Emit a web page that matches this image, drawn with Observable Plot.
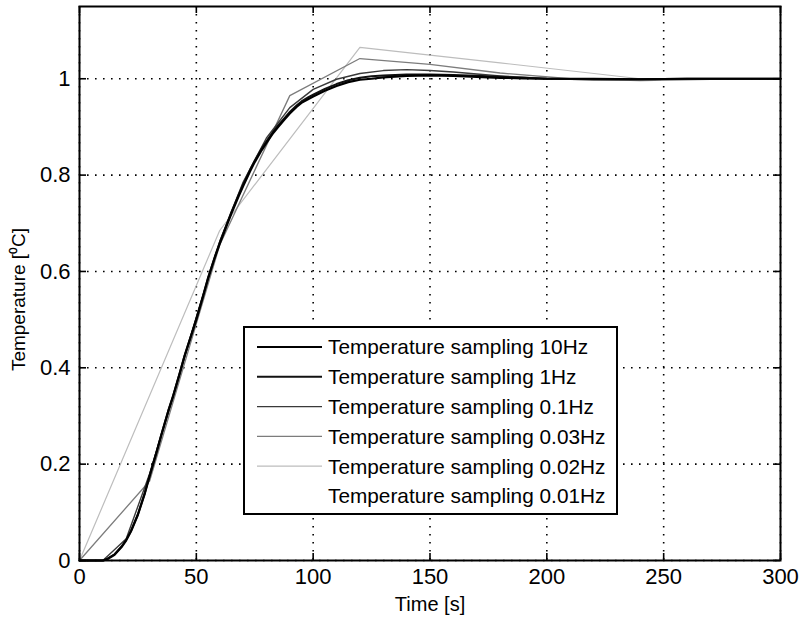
<!DOCTYPE html>
<html><head><meta charset="utf-8">
<script src="https://cdn.jsdelivr.net/npm/d3@7"></script>
<script src="https://cdn.jsdelivr.net/npm/@observablehq/plot@0.6"></script>
<style>
body{margin:0;background:#fff;}
#wrap{position:relative;width:801px;height:620px;font-family:"Liberation Sans",Arial,sans-serif;}
#legend{position:absolute;left:243px;top:326px;width:371px;height:185px;border:2px solid #000;background:#fff;}
</style></head>
<body><div id="wrap"><div id="chart"></div><div id="legend"></div></div>
<script>
// ---- data ----
const seriesNames = ["Temperature sampling 10Hz","Temperature sampling 1Hz","Temperature sampling 0.1Hz","Temperature sampling 0.03Hz","Temperature sampling 0.02Hz","Temperature sampling 0.01Hz"];
const xTicks = [0,50,100,150,200,250,300];
const yTicks = [0,0.2,0.4,0.6,0.8,1];
const yTickLabels = ["0","0.2","0.4","0.6","0.8","1"];
const xLabel = "Time [s]";
const yLabel = "Temperature [\u2070C]";

const t10Hz = [0,5,10,12,15,18,20,22,25,28,30,33,35,38,40,43,45,48,50,53,55,58,60,63,65,68,70,73,75,78,80,83,85,88,90,93,95,98,100,105,110,115,120,125,130,140,150,160,170,180,190,200,220,240,260,280,300];
const v10Hz = [0,0,0,0.003,0.012,0.028,0.042,0.06,0.095,0.14,0.175,0.225,0.26,0.31,0.34,0.39,0.425,0.47,0.5,0.55,0.585,0.63,0.657,0.695,0.72,0.755,0.777,0.808,0.827,0.852,0.867,0.888,0.9,0.917,0.928,0.942,0.95,0.958,0.963,0.975,0.985,0.993,0.998,1.0,1.003,1.006,1.007,1.006,1.004,1.002,1.001,1.0,1.0,0.999,1.0,1.0,1.0];

const t1Hz = [0,5,10,12,15,18,20,22,25,28,30,33,35,38,40,43,45,48,50,53,55,58,60,63,65,68,70,73,75,78,80,83,85,88,90,93,95,98,100,105,110,115,120,125,130,140,150,160,170,180,190,200,220,240,260,280,300];
const v1Hz = [0,0,0,0.004,0.013,0.029,0.043,0.061,0.096,0.141,0.176,0.226,0.261,0.311,0.341,0.391,0.426,0.471,0.502,0.552,0.587,0.632,0.66,0.698,0.723,0.758,0.78,0.811,0.83,0.855,0.87,0.891,0.903,0.92,0.931,0.945,0.953,0.962,0.967,0.979,0.989,0.997,1.002,1.005,1.007,1.009,1.009,1.008,1.006,1.004,1.002,1.0,0.999,0.999,1.0,1.0,1.0];

const t01Hz = [0,10,20,30,40,50,60,70,80,90,100,110,120,130,140,150,160,170,180,190,200,210,220,230,240,250,260,270,280,290,300];
const v01Hz = [0,0,0.045,0.18,0.34,0.505,0.662,0.785,0.877,0.94,0.978,0.999,1.011,1.017,1.019,1.017,1.014,1.01,1.006,1.003,1.0,0.999,0.998,0.998,0.999,1.0,1.0,1.0,1.0,1.0,1.0];

const t003Hz = [0,30,60,90,120,150,180,210,240,270,300];
const v003Hz = [0,0.165,0.655,0.965,1.042,1.03,1.012,1.0,0.996,0.999,1.0];

const t002Hz = [0,60,120,180,240,300];
const v002Hz = [0,0.685,1.065,1.033,1.0,1.0];

const t001Hz = [0,100,200,300];
const v001Hz = [0,0.97,1.0,1.0];

const seriesColors = ["#000000","#111111","#3a3a3a","#7c7c7c","#bdbdbd","#ffffff"];
const seriesWidths = [2.2,2,1.4,1.3,1.2,1.2];

// ---- build tables ----
const times = [t10Hz,t1Hz,t01Hz,t003Hz,t002Hz,t001Hz];
const vals = [v10Hz,v1Hz,v01Hz,v003Hz,v002Hz,v001Hz];
const tables = times.map((ts,i) => ts.map((t,j) => ({t, v: vals[i][j], s: seriesNames[i]})));

const font = "'Liberation Sans', Arial, sans-serif";
const W = 801, H = 620, mL = 79, mR = 21, mT = 6, mB = 60;
const innerW = W - mL - mR, innerH = H - mT - mB, tickLen = 7;
const gridStyle = {stroke:"#000", strokeOpacity:1, strokeWidth:1.6, strokeDasharray:"1.6,6.4"};
const tickStyle = {stroke:"#000", strokeWidth:1.6};
const lineMark = i => Plot.line(tables[i], {x:"t", y:"v", stroke: seriesColors[i], strokeWidth: seriesWidths[i], strokeLinejoin:"round"});

const chart = Plot.plot({
  width: W, height: H,
  marginLeft: mL, marginRight: mR, marginTop: mT, marginBottom: mB,
  style: {fontFamily: font, fontSize: "22px", color: "#000", background: "#fff", overflow: "visible"},
  x: {domain: [0,300]},
  y: {domain: [0,1.15]},
  marks: [
    lineMark(5),
    Plot.gridX(xTicks, gridStyle),
    Plot.gridY(yTicks, gridStyle),
    lineMark(4), lineMark(3), lineMark(2), lineMark(1), lineMark(0),
    // inward tick marks on all four sides
    Plot.tickX(xTicks, {x: d => d, insetTop: innerH - tickLen, ...tickStyle}),
    Plot.tickX(xTicks, {x: d => d, insetBottom: innerH - tickLen, ...tickStyle}),
    Plot.tickY(yTicks, {y: d => d, insetRight: innerW - tickLen, ...tickStyle}),
    Plot.tickY(yTicks, {y: d => d, insetLeft: innerW - tickLen, ...tickStyle}),
    Plot.axisX(xTicks, {anchor:"bottom", tickSize:0, tickPadding:8, fill:"#000", tickFormat: d => String(d), label:null}),
    Plot.axisY(yTicks, {anchor:"left", tickSize:0, tickPadding:9, fill:"#000", tickFormat: d => yTickLabels[yTicks.indexOf(d)], label:null}),
    Plot.text([xLabel], {frameAnchor:"bottom", dy:44, text: d => d, fontSize:20, fill:"#000", lineAnchor:"middle", textAnchor:"middle"}),
    Plot.text([yLabel], {frameAnchor:"left", dx:-61, dy:16, rotate:-90, text: d => d, fontSize:19, fill:"#000", lineAnchor:"middle", textAnchor:"middle"}),
    Plot.frame({stroke:"#000", strokeWidth:2})
  ]
});
document.getElementById("chart").appendChild(chart);

// ---- legend (inside the axes, like the original) ----
const leg = d3.select("#legend").append("svg").attr("width",371).attr("height",185);
seriesNames.forEach((name,i) => {
  const cy = 19 + i*29.8;
  leg.append("line").attr("x1",12).attr("x2",77).attr("y1",cy).attr("y2",cy)
     .attr("stroke",seriesColors[i]).attr("stroke-width",seriesWidths[i]);
  leg.append("text").attr("x",83).attr("y",cy).attr("dy","0.36em")
     .attr("font-family",font).attr("font-size","20.8px").attr("fill","#000").text(name);
});
</script>
</body></html>
